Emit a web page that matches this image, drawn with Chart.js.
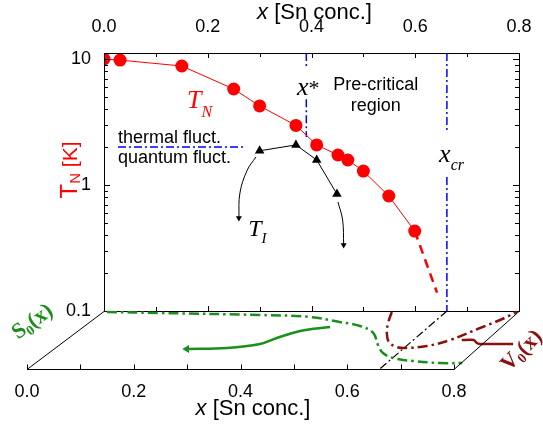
<!DOCTYPE html>
<html>
<head>
<meta charset="utf-8">
<script src="https://cdn.jsdelivr.net/npm/chart.js@4.4.1/dist/chart.umd.min.js"></script>
<style>
  html, body { margin: 0; padding: 0; background: #fff; }
  #wrap { position: relative; width: 543px; height: 425px; }
  #wrap canvas { position: absolute; left: 0; top: 0; }
</style>
</head>
<body>
<div id="wrap">
  <canvas id="mainChart" width="543" height="425"></canvas>
  <canvas id="planeChart" width="543" height="425"></canvas>
</div>
<script>
var SANS = '"Liberation Sans", Arial, Helvetica, sans-serif';
var SERIF = '"Liberation Serif", "Times New Roman", serif';

// T_N (red circles) and its dashed extrapolation
var tnX = [0, 0.031, 0.15, 0.25, 0.30, 0.37, 0.41, 0.451, 0.47, 0.50, 0.549, 0.599];
var tnY = [10, 9.8, 8.8, 5.78, 4.24, 2.97, 2.08, 1.73, 1.58, 1.29, 0.818, 0.431];
var tnExtX = [0.599, 0.642];
var tnExtY = [0.431, 0.14];

// T_I (black triangles) and the two arrows leaving it
var tiX = [0.30, 0.37, 0.41, 0.449];
var tiY = [1.87, 2.08, 1.58, 0.848];
var arrow1X = [0.293, 0.276, 0.262, 0.260];
var arrow1Y = [1.67, 1.31, 0.864, 0.548];
var arrow2X = [0.451, 0.460, 0.462];
var arrow2Y = [0.733, 0.527, 0.334];

// blue dash-dot guide lines
var fluctX = [0.027, 0.268];
var fluctY = [2.0, 2.0];
var xStar = 0.39;
var xStarTopY = [11.16, 8.5];
var xStarLowY = [4.8, 2.4];
var xCr = 0.661;
var xCrTopY = [11.16, 2.59];
var xCrLowY = [1.16, 0.1];

var xTickLabels = ['0.0', '0.2', '0.4', '0.6', '0.8'];
var yTickLabels = ['0.1', '1', '10'];

// curves on the tilted plane: x and depth (0 = front edge, 1 = back edge)
var s0X = [0.008, 0.113, 0.310, 0.411, 0.480, 0.528, 0.569, 0.605, 0.632, 0.662, 0.706, 0.761, 0.803];
var s0D = [0.983, 0.966, 0.931, 0.897, 0.810, 0.741, 0.621, 0.414, 0.276, 0.190, 0.138, 0.103, 0.103];
var s0ArrowX = [0.473, 0.425, 0.397, 0.379, 0.326, 0.252];
var s0ArrowD = [0.724, 0.655, 0.534, 0.431, 0.362, 0.345];
var v0X = [0.557, 0.575, 0.595, 0.619, 0.645, 0.666, 0.700, 0.731, 0.762, 0.783, 0.798];
var v0D = [0.983, 0.793, 0.621, 0.466, 0.379, 0.362, 0.397, 0.5, 0.707, 0.845, 0.983];
var v0ArrowX = [0.753, 0.776, 0.788, 0.796, 0.859];
var v0ArrowD = [0.5, 0.5, 0.448, 0.431, 0.431];
var crPlaneX = [0.661, 0.661];
var crPlaneD = [1, -0.02];

Chart.defaults.font.family = SANS;
Chart.defaults.color = '#000';

function pts(xs, ys) {
  return xs.map(function (x, i) { return { x: x, y: ys[i] }; });
}
function lastOnly(r) {
  return function (c) { return c.dataIndex === c.dataset.data.length - 1 ? r : 0; };
}
function guide(xs, ys, color) {
  return { data: pts(xs, ys), showLine: true, borderColor: color, borderWidth: 1.5,
           borderDash: [8, 3, 2, 3], pointRadius: 0 };
}
function arrow(xs, ys, color, width, rot, head) {
  return { data: pts(xs, ys), showLine: true, borderColor: color, borderWidth: width,
           tension: 0.4, capBezierPoints: false, pointStyle: 'triangle', pointRotation: rot,
           pointRadius: lastOnly(head), backgroundColor: color, pointBorderWidth: 0 };
}
function drawRuns(ctx, x, y, runs, center) {
  var w = 0;
  runs.forEach(function (r) { ctx.font = r[1]; w += ctx.measureText(r[0]).width; });
  var cx = center ? x - w / 2 : x;
  runs.forEach(function (r) {
    ctx.font = r[1];
    ctx.fillText(r[0], cx, y + (r[2] || 0));
    cx += ctx.measureText(r[0]).width;
  });
}

var mainDecor = {
  id: 'mainDecor',
  afterDraw: function (chart) {
    var ctx = chart.ctx, a = chart.chartArea, xs = chart.scales.x, ys = chart.scales.y;
    var X = function (v) { return xs.getPixelForValue(v); };
    var Y = function (v) { return ys.getPixelForValue(v); };
    ctx.save();
    ctx.strokeStyle = '#000';
    ctx.lineWidth = 1;
    ctx.strokeRect(a.left + 0.5, a.top + 0.5, a.right - a.left, a.bottom - a.top);
    ctx.beginPath();
    for (var i = 0; i <= 8; i++) {
      var px = Math.round(X(i / 10)) + 0.5, len = i % 2 ? 4 : 5;
      ctx.moveTo(px, a.top); ctx.lineTo(px, a.top + len);
      ctx.moveTo(px, a.bottom); ctx.lineTo(px, a.bottom - len);
    }
    for (var e = -1; e <= 1; e++) {
      for (var k = 1; k <= 9; k++) {
        var v = k * Math.pow(10, e);
        if (v > ys.max) break;
        var py = Math.round(Y(v)) + 0.5, l = k === 1 ? 6 : 4;
        ctx.moveTo(a.left, py); ctx.lineTo(a.left + l, py);
        ctx.moveTo(a.right, py); ctx.lineTo(a.right - l, py);
      }
    }
    ctx.stroke();

    ctx.textAlign = 'left';
    ctx.textBaseline = 'alphabetic';
    ctx.fillStyle = '#000';
    // top axis title
    drawRuns(ctx, (a.left + a.right) / 2 + 3, 19,
      [['x', 'italic 22px ' + SANS], [' [Sn conc.]', '22px ' + SANS]], true);
    // y axis title
    ctx.save();
    ctx.translate(77, 170);
    ctx.rotate(-Math.PI / 2);
    ctx.fillStyle = '#ff0000';
    drawRuns(ctx, 0, 0, [['T', '24px ' + SANS], ['N', '15px ' + SANS, 3], [' [K]', '21px ' + SANS]], true);
    ctx.restore();

    ctx.fillStyle = '#ff0000';
    drawRuns(ctx, X(0.160), Y(4.08), [['T', 'italic 26px ' + SERIF], ['N', 'italic 16px ' + SERIF, 9]]);
    ctx.fillStyle = '#000';
    drawRuns(ctx, X(0.278), Y(0.393), [['T', 'italic 24px ' + SERIF], ['I', 'italic 15px ' + SERIF, 7]]);
    drawRuns(ctx, X(0.372), Y(5.18), [['x', 'italic 26px ' + SERIF], ['*', '22px ' + SERIF]]);
    drawRuns(ctx, X(0.646), Y(1.52), [['x', 'italic 26px ' + SERIF], ['cr', 'italic 16px ' + SERIF, 8]]);
    ctx.font = '18px ' + SANS;
    ctx.fillText('thermal fluct.', X(0.027), Y(2.15));
    ctx.fillText('quantum fluct.', X(0.027), Y(1.50));
    ctx.textAlign = 'center';
    ctx.fillText('Pre-critical', X(0.524), Y(5.68));
    ctx.fillText('region', X(0.524), Y(3.86));
    ctx.restore();
  }
};

var mainChart = new Chart(document.getElementById('mainChart'), {
  type: 'scatter',
  data: {
    datasets: [
      { data: pts(tnX, tnY), showLine: true, borderColor: '#ff0000', borderWidth: 1,
        backgroundColor: '#ff0000', pointRadius: 6.5, pointBorderWidth: 0 },
      { data: pts(tiX, tiY), showLine: true, borderColor: '#000', borderWidth: 1,
        backgroundColor: '#000', pointStyle: 'triangle', pointRadius: 5.5, pointBorderWidth: 0 },
      { data: pts(tnExtX, tnExtY), showLine: true, borderColor: '#ff0000', borderWidth: 2.5,
        borderDash: [9, 6], pointRadius: 0 },
      arrow(arrow1X, arrow1Y, '#000', 1, 180, 3.5),
      arrow(arrow2X, arrow2Y, '#000', 1, 180, 3.5),
      guide(fluctX, fluctY, '#0000ff'),
      guide([xStar, xStar], xStarTopY, '#0000ff'),
      guide([xStar, xStar], xStarLowY, '#0000ff'),
      guide([xCr, xCr], xCrTopY, '#0000ff'),
      guide([xCr, xCr], xCrLowY, '#0000ff')
    ]
  },
  options: {
    responsive: false,
    animation: false,
    layout: { padding: { left: 0, top: 0, right: 24, bottom: 114 } },
    plugins: { legend: { display: false }, tooltip: { enabled: false } },
    scales: {
      x: {
        type: 'linear', position: 'top', min: 0, max: 0.8,
        grid: { display: false }, border: { display: false },
        ticks: {
          stepSize: 0.1, autoSkip: false, maxRotation: 0, padding: 7,
          font: { size: 18 },
          callback: function (v) {
            var i = Math.round(v * 10);
            return i % 2 === 0 ? xTickLabels[i / 2] : '';
          }
        },
        afterFit: function (s) { s.height = 53; }
      },
      y: {
        type: 'logarithmic', min: 0.1, max: 11.16,
        grid: { display: false }, border: { display: false },
        ticks: {
          autoSkip: false, padding: 5, font: { size: 18 },
          callback: function (v) {
            var l = yTickLabels.filter(function (t) { return Math.abs(+t - v) < 1e-9; });
            return l.length ? l[0] : '';
          }
        },
        afterFit: function (s) { s.width = 104; }
      }
    }
  },
  plugins: [mainDecor]
});

// points on the plane are drawn between the front axis (this chart) and the back axis (main chart)
var perspective = {
  id: 'perspective',
  afterDatasetsUpdate: function (chart) {
    var front = chart.scales.x, back = mainChart.scales.x;
    chart.data.datasets.forEach(function (ds, i) {
      chart.getDatasetMeta(i).data.forEach(function (pt, j) {
        var r = ds.data[j];
        pt.x = (1 - r.y) * front.getPixelForValue(r.x) + r.y * back.getPixelForValue(r.x);
      });
    });
  }
};

var planeDecor = {
  id: 'planeDecor',
  afterDraw: function (chart) {
    var ctx = chart.ctx, a = chart.chartArea, front = chart.scales.x, back = mainChart.scales.x;
    var yb = a.bottom + 0.5, yt = a.top + 0.5;
    ctx.save();
    ctx.strokeStyle = '#000';
    ctx.lineWidth = 1;
    ctx.beginPath();
    ctx.moveTo(back.getPixelForValue(0), yt);
    ctx.lineTo(front.getPixelForValue(0), yb);
    ctx.lineTo(front.getPixelForValue(0.8), yb);
    ctx.lineTo(back.getPixelForValue(0.8), yt);
    for (var i = 0; i <= 8; i++) {
      var px = Math.round(front.getPixelForValue(i / 10)) + 0.5;
      ctx.moveTo(px, yb); ctx.lineTo(px, yb - 5);
    }
    ctx.stroke();

    ctx.textAlign = 'left';
    ctx.textBaseline = 'alphabetic';
    ctx.fillStyle = '#000';
    drawRuns(ctx, 253, 415, [['x', 'italic 22px ' + SANS], [' [Sn conc.]', '22px ' + SANS]], true);

    ctx.save();
    ctx.translate(32, 321);
    ctx.rotate(-36 * Math.PI / 180);
    ctx.fillStyle = '#1a8f1a';
    drawRuns(ctx, 0, 7, [['S', 'bold 22px ' + SERIF], ['0', 'bold 14px ' + SERIF, 4], ['(x)', 'bold 22px ' + SERIF]], true);
    ctx.restore();

    ctx.save();
    ctx.translate(521, 350);
    ctx.rotate(-45 * Math.PI / 180);
    ctx.fillStyle = '#8b1010';
    drawRuns(ctx, 0, 7, [['V', 'bold 22px ' + SERIF], ['0', 'bold 14px ' + SERIF, 4], ['(x)', 'bold 22px ' + SERIF]], true);
    ctx.restore();
    ctx.restore();
  }
};

new Chart(document.getElementById('planeChart'), {
  type: 'scatter',
  data: {
    datasets: [
      { data: pts(s0X, s0D), showLine: true, borderColor: '#1a8f1a', borderWidth: 2.5,
        borderDash: [10, 4, 2.5, 4], tension: 0.4, capBezierPoints: false, pointRadius: 0, clip: false },
      Object.assign(arrow(s0ArrowX, s0ArrowD, '#1a8f1a', 2.5, 270, 4.5), { clip: false }),
      { data: pts(v0X, v0D), showLine: true, borderColor: '#8b1010', borderWidth: 2.5,
        borderDash: [10, 4, 2.5, 4], tension: 0.4, capBezierPoints: false, pointRadius: 0, clip: false },
      Object.assign(arrow(v0ArrowX, v0ArrowD, '#8b1010', 2.5, 90, 4.5), { tension: 0.2, clip: false }),
      { data: pts(crPlaneX, crPlaneD), showLine: true, borderColor: '#000', borderWidth: 1.2,
        borderDash: [8, 3, 2, 3], pointRadius: 0, clip: false }
    ]
  },
  options: {
    responsive: false,
    animation: false,
    layout: { padding: { left: 27, top: 311, right: 89, bottom: 0 } },
    plugins: { legend: { display: false }, tooltip: { enabled: false } },
    scales: {
      x: {
        type: 'linear', position: 'bottom', min: 0, max: 0.8,
        grid: { display: false }, border: { display: false },
        ticks: {
          stepSize: 0.1, autoSkip: false, maxRotation: 0, padding: 4,
          font: { size: 18 },
          callback: function (v) {
            var i = Math.round(v * 10);
            return i % 2 === 0 ? xTickLabels[i / 2] : '';
          }
        },
        afterFit: function (s) { s.height = 56; }
      },
      y: { type: 'linear', min: 0, max: 1, display: false }
    }
  },
  plugins: [perspective, planeDecor]
});
</script>
</body>
</html>
